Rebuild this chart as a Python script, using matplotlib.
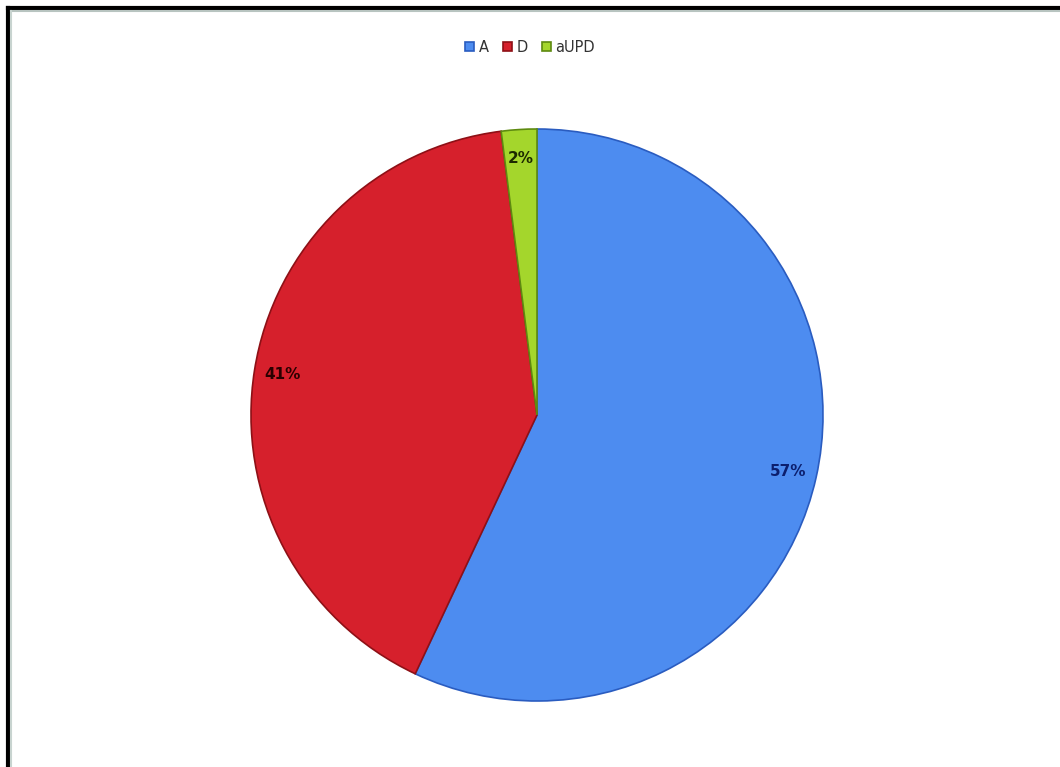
import matplotlib.pyplot as plt
from matplotlib.lines import Line2D

# Data
labels = ["A", "D", "aUPD"]
values = [57, 41, 2]
colors = ["#4d8cf0", "#d6202c", "#a4d62c"]
edge_colors = ["#2a5cc0", "#8e1016", "#5e8a10"]
text_colors = ["#0c1f6e", "#2a0000", "#1d2a00"]

W, H = 1060, 767
fig = plt.figure(figsize=(W / 100, H / 100), dpi=100)

cx, cy, r = 537, 415, 286
ax = fig.add_axes([(cx - r) / W, (H - cy - r) / H, 2 * r / W, 2 * r / H])

wedges, texts, autotexts = ax.pie(
    values,
    colors=colors,
    startangle=90,
    counterclock=False,
    autopct="%d%%",
    pctdistance=0.9,
    wedgeprops=dict(linewidth=1.2),
)
for w, ec in zip(wedges, edge_colors):
    w.set_edgecolor(ec)
for t, tc in zip(autotexts, text_colors):
    t.set_color(tc)
    t.set_fontsize(11)
    t.set_fontweight("bold")
ax.set_aspect("equal")
ax.set_xlim(-1, 1)
ax.set_ylim(-1, 1)

# legend at top
leg = fig.legend(
    wedges, labels,
    loc="upper center", bbox_to_anchor=(0.5, 0.965),
    ncol=3, frameon=False, fontsize=10.5,
    handlelength=0.6, handleheight=0.6, handletextpad=0.3, columnspacing=1.0,
)
for t in leg.get_texts():
    t.set_color("#333333")

# border only on top and left, like the cropped original
x0 = 7.5 / W
y0 = 1 - 8 / H
fig.lines.append(Line2D([x0, 1], [y0, y0], transform=fig.transFigure,
                        color="black", linewidth=3))
fig.lines.append(Line2D([x0, x0], [0, y0], transform=fig.transFigure,
                        color="black", linewidth=3))
fig.lines.append(Line2D([x0 + 3 / W, 1], [y0 - 3 / H, y0 - 3 / H],
                        transform=fig.transFigure, color="#b8c4c0", linewidth=1.5))
fig.lines.append(Line2D([x0 + 3 / W, x0 + 3 / W], [0, y0 - 3 / H],
                        transform=fig.transFigure, color="#c8d4d0", linewidth=1.5))

fig.savefig("out.png", dpi=100)
